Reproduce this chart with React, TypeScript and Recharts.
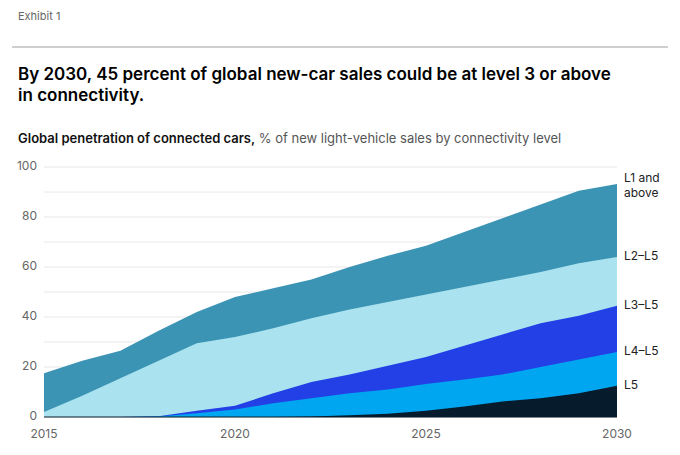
import { Area, AreaChart, CartesianGrid, XAxis, YAxis } from 'recharts';

const years = [2015, 2016, 2017, 2018, 2019, 2020, 2021, 2022, 2023, 2024, 2025, 2026, 2027, 2028, 2029, 2030];

// cumulative shares, % of new light-vehicle sales
const l1Plus = [17.5, 22.5, 26.5, 34.5, 42, 48, 51.5, 55, 60, 64.5, 68.5, 74, 79.5, 85, 90.5, 93.2];
const l2Plus = [2, 8.5, 15.5, 22.5, 29.5, 32, 35.5, 39.5, 43, 46, 49, 52, 55, 58, 61.5, 64];
const l3Plus = [0, 0, 0, 0.3, 2.5, 4.5, 9.5, 14, 17, 20.5, 24, 28.5, 33, 37.5, 40.5, 44.5];
const l4Plus = [0, 0, 0, 0.2, 1.5, 3, 5.5, 7.5, 9.5, 11, 13.2, 15, 17, 20, 23, 26];
const l5 = [0, 0, 0, 0, 0, 0, 0, 0.2, 0.7, 1.3, 2.5, 4.2, 6.2, 7.5, 9.5, 12.5];

const xTicks = [2015, 2020, 2025, 2030];
const yTicks = [0, 10, 20, 30, 40, 50, 60, 70, 80, 90, 100];

const FONT = 'Inter, "Noto Sans", sans-serif';

const data = years.map((year, i) => ({
  year,
  l1: l1Plus[i],
  l2: l2Plus[i],
  l3: l3Plus[i],
  l4: l4Plus[i],
  l5: l5[i],
}));

const series = [
  { key: 'l1', label: ['L1 and', 'above'], fill: '#3c94b5' },
  { key: 'l2', label: ['L2–L5'], fill: '#aae3ef' },
  { key: 'l3', label: ['L3–L5'], fill: '#2240e6' },
  { key: 'l4', label: ['L4–L5'], fill: '#00a6f0' },
  { key: 'l5', label: ['L5'], fill: '#061b2b' },
];

function endLabel(lines: string[]) {
  return (props: any) => {
    const { x, y, index } = props;
    if (index !== years.length - 1) return null;
    const offset = lines.length > 1 ? -5 : 0;
    return (
      <text
        x={x + 7}
        y={y + offset}
        fontSize={12}
        fill="#222"
        fontFamily={FONT}
        dominantBaseline="middle"
      >
        {lines.map((line, i) => (
          <tspan key={line} x={x + 7} dy={i === 0 ? 0 : 15}>
            {line}
          </tspan>
        ))}
      </text>
    );
  };
}

function YTick(props: any) {
  const { x, y, payload } = props;
  if (payload.value % 20 !== 0) return null;
  return (
    <text x={x} y={y} textAnchor="end" dominantBaseline="middle" fontSize={12} fill="#666" fontFamily={FONT}>
      {payload.value}
    </text>
  );
}

export default function App() {
  return (
    <div style={{ position: 'absolute', left: 0, top: 0, width: 680, height: 455, background: '#fff', fontFamily: FONT }}>
      <div style={{ position: 'absolute', left: 18, top: 9, fontSize: 11, color: '#666' }}>Exhibit 1</div>
      <div style={{ position: 'absolute', left: 12, top: 46, width: 656, height: 2, background: '#cfcfcf' }} />
      <div
        style={{
          position: 'absolute',
          left: 18,
          top: 64,
          width: 605,
          fontSize: 17,
          lineHeight: '21px',
          fontWeight: 600,
          color: '#000',
        }}
      >
        By 2030, 45 percent of global new-car sales could be at level 3 or above in connectivity.
      </div>
      <div style={{ position: 'absolute', left: 18, top: 130, fontSize: 13, color: '#555', whiteSpace: 'nowrap' }}>
        <span style={{ fontWeight: 600, color: '#111' }}>Global penetration of connected cars,</span> % of new
        light-vehicle sales by connectivity level
      </div>
      <div style={{ position: 'absolute', left: 0, top: 150 }}>
        <AreaChart width={680} height={300} data={data} margin={{ top: 17, right: 63, left: 10, bottom: 13 }}>
          <CartesianGrid vertical={false} stroke="#e8e8e8" />
          <XAxis
            dataKey="year"
            type="number"
            domain={[2015, 2030]}
            ticks={xTicks}
            tickLine={false}
            axisLine={{ stroke: '#0b1d2c' }}
            tickSize={0}
            tickMargin={12}
            height={20}
            tick={{ fontSize: 12, fill: '#666', fontFamily: FONT }}
          />
          <YAxis
            domain={[0, 100]}
            ticks={yTicks}
            axisLine={false}
            tickLine={false}
            tickSize={0}
            tickMargin={7}
            width={34}
            tick={<YTick />}
          />
          {series.map((s) => (
            <Area
              key={s.key}
              type="linear"
              dataKey={s.key}
              stroke="none"
              fill={s.fill}
              fillOpacity={1}
              isAnimationActive={false}
              dot={false}
              activeDot={false}
              label={endLabel(s.label)}
            />
          ))}
        </AreaChart>
      </div>
    </div>
  );
}
